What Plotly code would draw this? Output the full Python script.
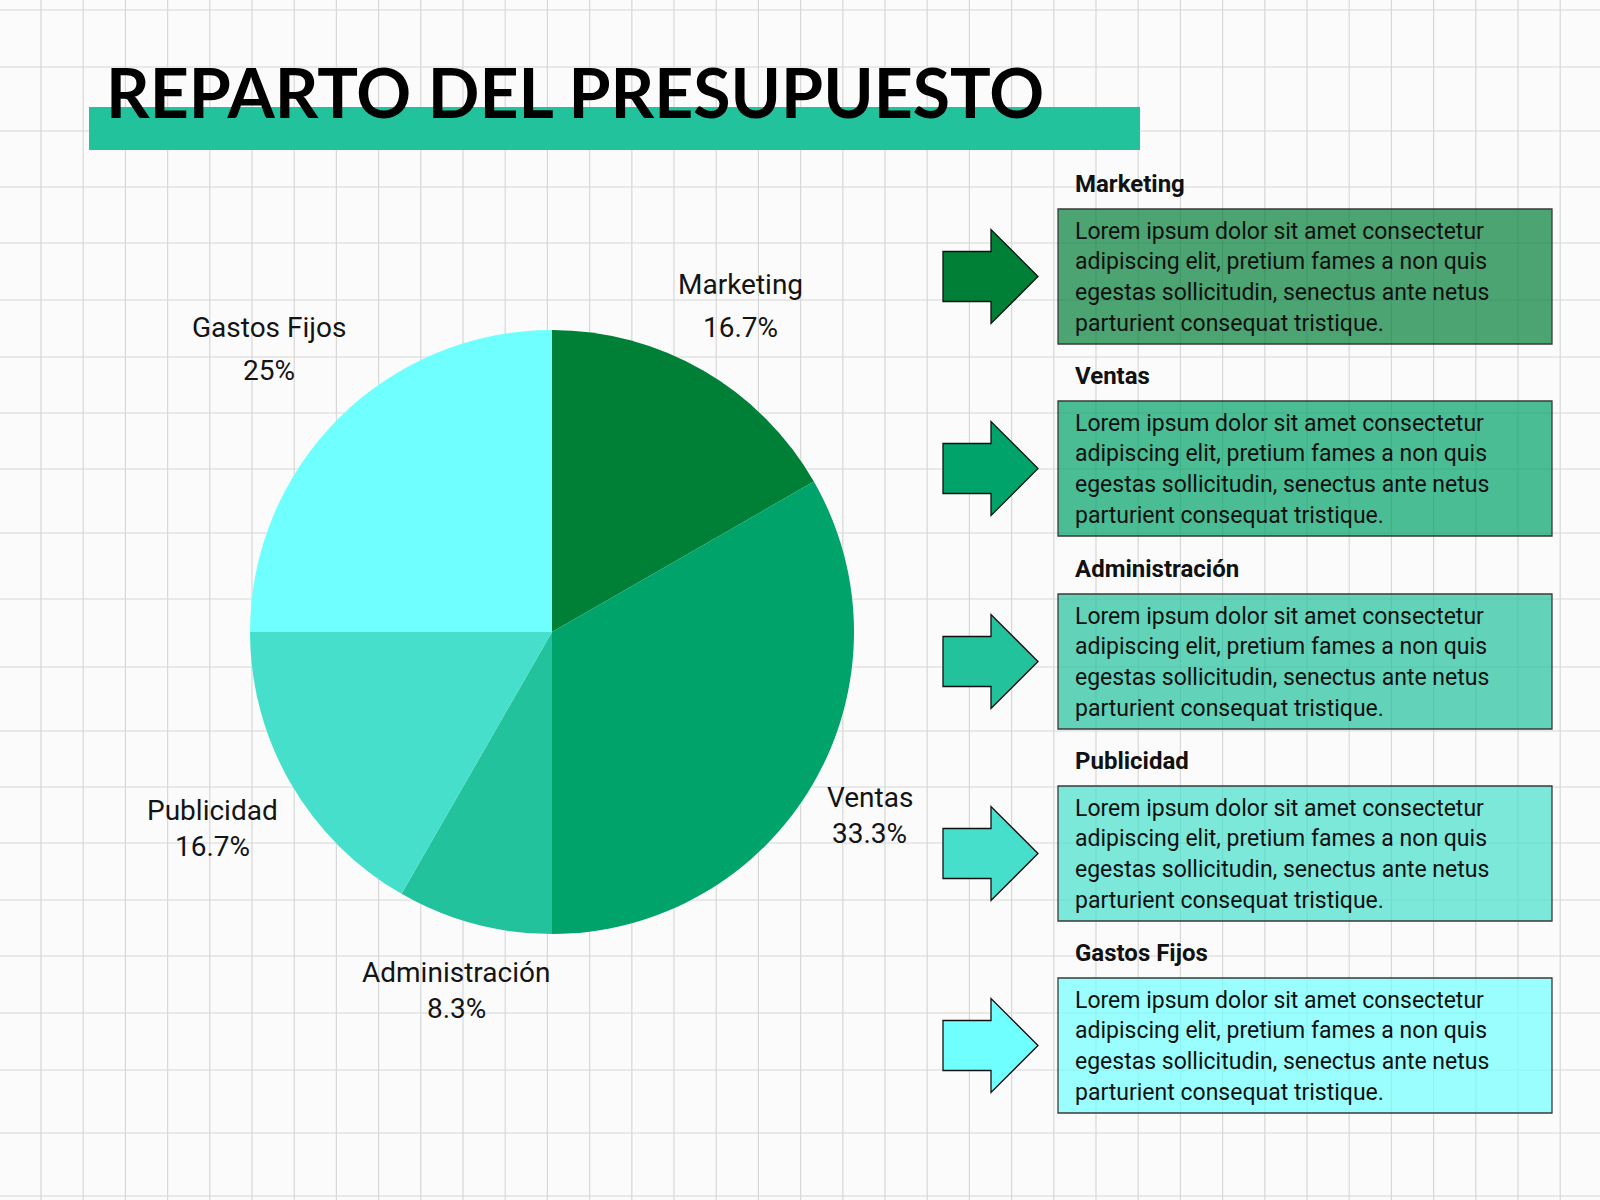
import math
import plotly.graph_objects as go

# ---- data ----
categories = ["Marketing", "Ventas", "Administración", "Publicidad", "Gastos Fijos"]
shares = [16.7, 33.3, 8.3, 16.7, 25]
slice_colors = ["#007F36", "#00A36A", "#21C29C", "#45DFCB", "#70FFFF"]
title_text = "REPARTO DEL PRESUPUESTO"
desc_lines = [
    "Lorem ipsum dolor sit amet consectetur",
    "adipiscing elit, pretium fames a non quis",
    "egestas sollicitudin, senectus ante netus",
    "parturient consequat tristique.",
]

W, H = 1600, 1200


def hex_rgba(h, a):
    h = h.lstrip("#")
    r, g, b = int(h[0:2], 16), int(h[2:4], 16), int(h[4:6], 16)
    return f"rgba({r},{g},{b},{a})"


fig = go.Figure()

# pie (center ~ (552,632) px, radius ~302 px)
cx, cy, R = 552, 632, 302
fig.add_trace(go.Pie(
    labels=categories,
    values=shares,
    sort=False,
    direction="clockwise",
    rotation=0,
    marker=dict(colors=slice_colors, line=dict(width=0)),
    textinfo="none",
    showlegend=False,
    hoverinfo="label+value",
    domain=dict(x=[(cx - R) / W, (cx + R) / W], y=[1 - (cy + R) / H, 1 - (cy - R) / H]),
))

annotations = []

# slice labels placed along each slice's mid-angle (derived from the shares)
lab_fs = 28
total = sum(shares)
acc = 0.0
for cat, v in zip(categories, shares):
    mid_deg = (acc + v / 2) / total * 360.0
    acc += v
    th = math.radians(mid_deg)
    dx, dy = math.sin(th), -math.cos(th)
    gap_lines = 43 if dy < 0 else 36
    hw = len(cat) * 0.53 * lab_fs / 2
    hh = gap_lines / 2 + 15
    D = R + 10 + hw * abs(dx) + hh * abs(dy)
    lx, ly = cx + D * dx, cy + D * dy
    annotations.append(dict(text=cat, xref="x", yref="y", x=lx, y=ly - gap_lines / 2, xanchor="center",
                            yanchor="middle", showarrow=False,
                            font=dict(family="Roboto", size=lab_fs, color="#141414")))
    annotations.append(dict(text=f"{v:g}%", xref="x", yref="y", x=lx, y=ly + gap_lines / 2, xanchor="center",
                            yanchor="middle", showarrow=False,
                            font=dict(family="Roboto", size=lab_fs, color="#141414")))

shapes = []
# grid paper background
vx = 41.0
while vx < W:
    shapes.append(dict(type="line", xref="x", yref="y", x0=vx, x1=vx, y0=0, y1=H,
                       line=dict(color="#d8d8d8", width=1.2), layer="below"))
    vx += 42.2
for hy in [10, 67, 131, 187, 243, 300, 357, 413, 469, 533, 599, 667, 731, 787, 843, 900, 956, 1013, 1070, 1133, 1196]:
    shapes.append(dict(type="line", xref="x", yref="y", x0=0, x1=W, y0=hy, y1=hy,
                       line=dict(color="#d8d8d8", width=1.2), layer="below"))

# title bar
shapes.append(dict(type="rect", xref="x", yref="y", x0=89, x1=1140, y0=107, y1=150,
                   fillcolor="#21C29C", line=dict(width=0), layer="below"))

annotations.append(dict(
    text=f"<b>{title_text}</b>", xref="x", yref="y", x=104, y=91, xanchor="left", yanchor="middle",
    showarrow=False, font=dict(family="Lato", size=68, color="#000000", weight=900),
))

box_tops = [209, 401, 594, 786, 978]
box_h = 135
for cat, col, top in zip(categories, slice_colors, box_tops):
    mid = top + box_h / 2
    shapes.append(dict(type="rect", xref="x", yref="y", x0=1058, x1=1552, y0=top, y1=top + box_h,
                       fillcolor=hex_rgba(col, 0.7), line=dict(color="#3a3a3a", width=1.3)))
    path = (f"M 943 {mid-25} L 991 {mid-25} L 991 {mid-47} L 1038 {mid} L 991 {mid+47} "
            f"L 991 {mid+25} L 943 {mid+25} Z")
    shapes.append(dict(type="path", xref="x", yref="y", path=path, fillcolor=col,
                       line=dict(color="#111111", width=1.3)))
    annotations.append(dict(text=f"<b>{cat}</b>", xref="x", yref="y", x=1073, y=top - 25,
                            xanchor="left", yanchor="middle", showarrow=False,
                            font=dict(family="Roboto", size=24, color="#111111")))
    for i, ln in enumerate(desc_lines):
        annotations.append(dict(text=ln, xref="x", yref="y", x=1073, y=top + 22 + i * 30.8,
                                xanchor="left", yanchor="middle", showarrow=False,
                                font=dict(family="Roboto", size=23, color="#111111")))

fig.update_layout(
    width=W, height=H,
    margin=dict(l=0, r=0, t=0, b=0),
    paper_bgcolor="#fbfbfb",
    plot_bgcolor="rgba(0,0,0,0)",
    xaxis=dict(range=[0, W], visible=False, fixedrange=True, domain=[0, 1]),
    yaxis=dict(range=[H, 0], visible=False, fixedrange=True, domain=[0, 1]),
    shapes=shapes,
    annotations=annotations,
)

fig.write_html("out.html", config={"displayModeBar": False},
               post_script="document.body.style.margin='0px';")
